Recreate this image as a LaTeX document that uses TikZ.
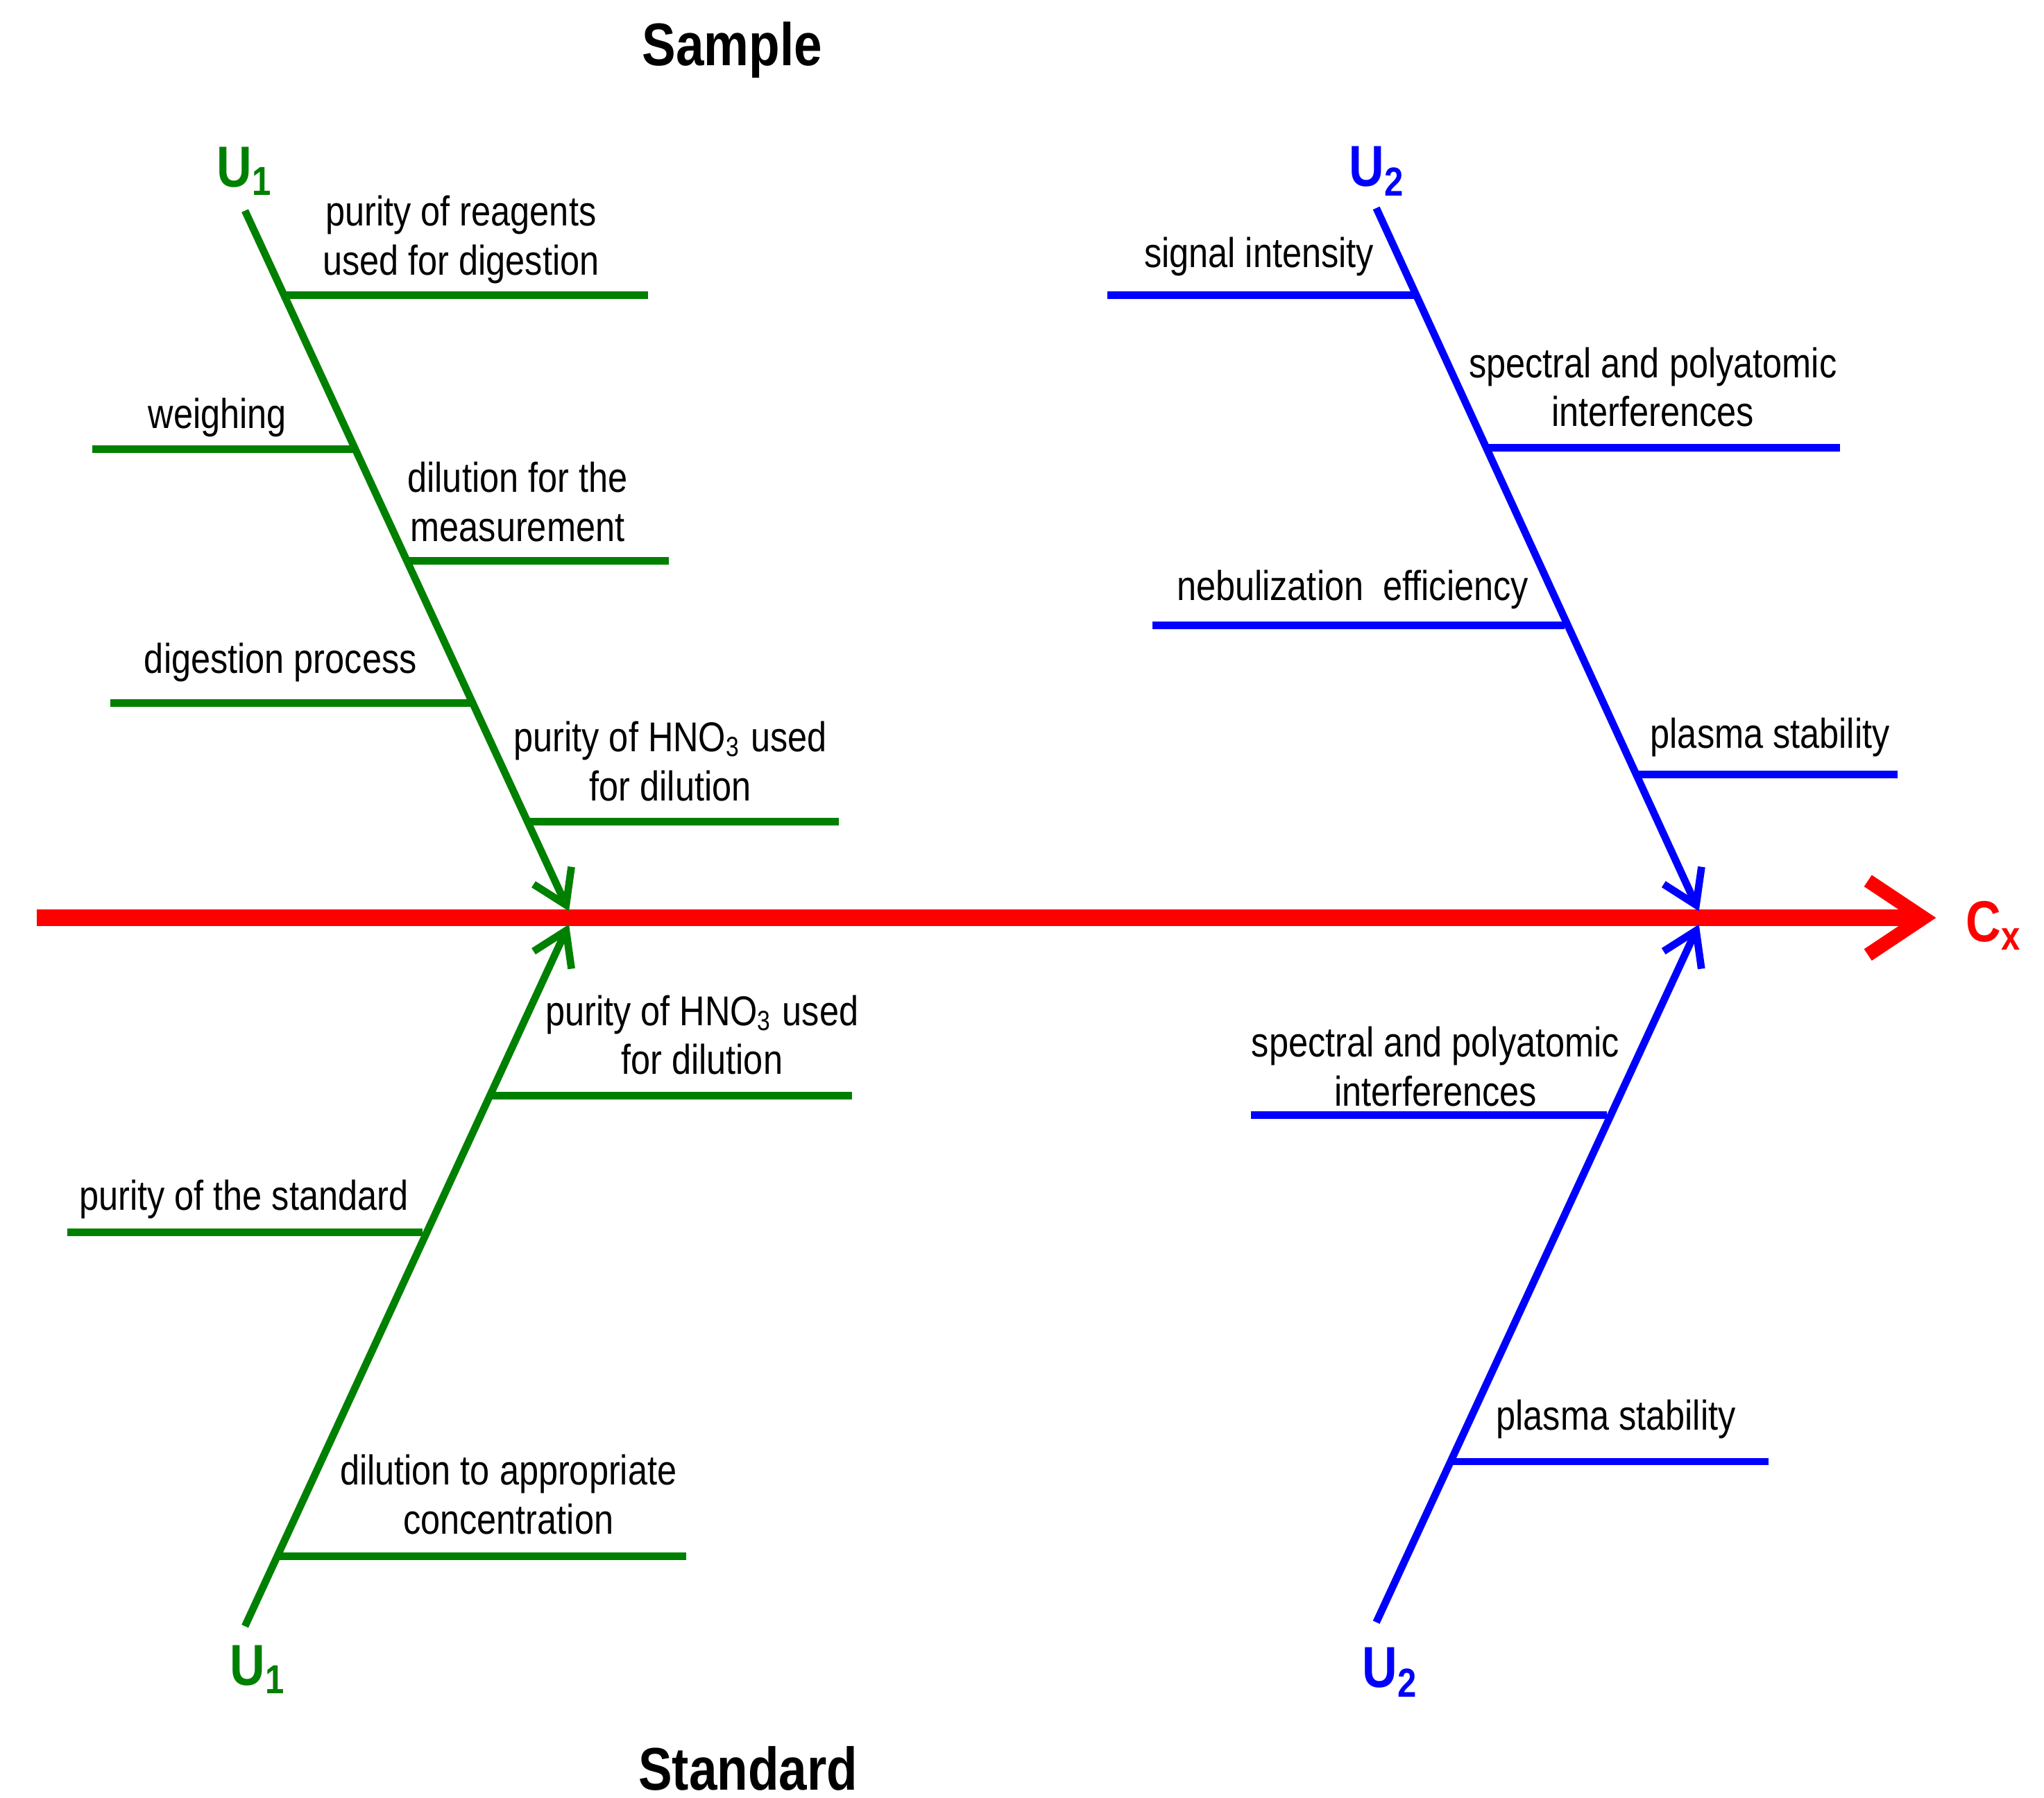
\documentclass[tikz,border=0pt]{standalone}
\usepackage{fontspec}
\setmainfont{Liberation Sans}[FakeStretch=0.84]
\usetikzlibrary{arrows.meta}
\begin{document}
\begin{tikzpicture}[x=0.01cm,y=-0.01cm,
  g/.style={draw={rgb,255:red,0;green,128;blue,0},line width=1.6pt},
  b/.style={draw=blue,line width=1.6pt},
  lbl/.style={font=\fontsize{9}{10.6}\selectfont,align=center,inner sep=0},
  ul/.style={font=\bfseries\fontsize{12.5}{15}\selectfont,inner sep=0},
  tt/.style={font=\bfseries\fontsize{13}{16}\selectfont,inner sep=0},
  tip/.style={-{Straight Barb[length=7pt,width=9pt,line width=1.6pt]}}]
\useasboundingbox (0,0) rectangle (1552,1365);
% red axis
\coordinate (r0) at (28,697); \coordinate (r1) at (1470,697);
\draw[red,line width=3.5pt,-{Straight Barb[length=12pt,width=16pt,line width=3pt]}] (r0) -- (r1);
\node[ul,red,anchor=west] (cx) at (1492,703) {C\textsubscript{x}};
\node[tt] (sample) at (556,38) {Sample};
\node[tt] (standard) at (568,1343) {Standard};
% green upper
\coordinate (gu0) at (186,160); \coordinate (gu1) at (432,692);
\draw[g,tip] (gu0) -- (gu1);
\node[ul,text={rgb,255:red,0;green,128;blue,0}] (u1a) at (186,130) {U\textsubscript{1}};
\foreach \y/\xa/\xb in {224/216/492, 341/70/268, 426/308/508, 534/84/357, 624/400/637}
  \draw[g] (\xa,\y) -- (\xb,\y);
\node[lbl] (t1) at (350,182) {purity of reagents\\used for digestion};
\node[lbl] (t2) at (165,317) {weighing};
\node[lbl] (t3) at (393,381) {dilution for the\\measurement};
\node[lbl] (t4) at (213,503) {digestion process};
\node[lbl] (t5) at (509,578) {purity of HNO\textsubscript{3} used\\for dilution};
% green lower
\coordinate (gl0) at (186,1235); \coordinate (gl1) at (432,702);
\draw[g,tip] (gl0) -- (gl1);
\node[ul,text={rgb,255:red,0;green,128;blue,0}] (u1b) at (196,1268) {U\textsubscript{1}};
\foreach \y/\xa/\xb in {832/372/647, 936/51/321, 1182/211/521}
  \draw[g] (\xa,\y) -- (\xb,\y);
\node[lbl] (t6) at (533,786) {purity of HNO\textsubscript{3} used\\for dilution};
\node[lbl] (t7) at (185,911) {purity of the standard};
\node[lbl] (t8) at (386,1135) {dilution to appropriate\\concentration};
% blue upper
\coordinate (bu0) at (1045,158); \coordinate (bu1) at (1290,692);
\draw[b,tip] (bu0) -- (bu1);
\node[ul,blue] (u2a) at (1046,130) {U\textsubscript{2}};
\foreach \y/\xa/\xb in {224/841/1074, 340/1130/1397, 475/875/1188, 588/1243/1441}
  \draw[b] (\xa,\y) -- (\xb,\y);
\node[lbl] (t9) at (956,195) {signal intensity};
\node[lbl] (t10) at (1255,294) {spectral and polyatomic\\interferences};
\node[lbl] (t11) at (1027,448) {nebulization\ \ efficiency};
\node[lbl] (t12) at (1344,560) {plasma stability};
% blue lower
\coordinate (bl0) at (1045,1232); \coordinate (bl1) at (1290,702);
\draw[b,tip] (bl0) -- (bl1);
\node[ul,blue] (u2b) at (1056,1270) {U\textsubscript{2}};
\foreach \y/\xa/\xb in {847/950/1220, 1110/1102/1343}
  \draw[b] (\xa,\y) -- (\xb,\y);
\node[lbl] (t13) at (1090,810) {spectral and polyatomic\\interferences};
\node[lbl] (t14) at (1227,1078) {plasma stability};
\end{tikzpicture}
\end{document}
